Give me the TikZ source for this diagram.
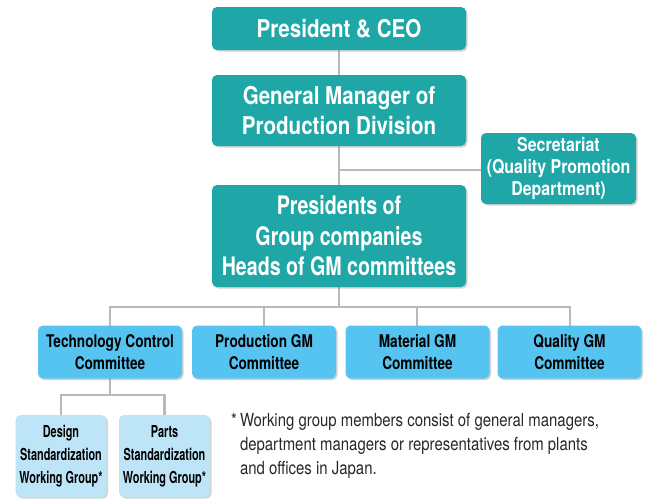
\documentclass[tikz,border=0pt]{standalone}
\usepackage{fontspec}
\setmainfont[FakeStretch=0.85]{TeX Gyre Heros}
\newfontfamily\topfont[FakeStretch=0.84]{TeX Gyre Heros}
\newfontfamily\presfont[FakeStretch=0.77]{TeX Gyre Heros}
\newfontfamily\secfont[FakeStretch=0.84]{TeX Gyre Heros}
\newfontfamily\comfont[FakeStretch=0.78]{TeX Gyre Heros}
\newfontfamily\wgfont[FakeStretch=0.66]{TeX Gyre Heros}
\newfontfamily\notefont[FakeStretch=0.83]{TeX Gyre Heros}
\usetikzlibrary{shadows}
\definecolor{tealbox}{RGB}{31,167,167}
\definecolor{bluebox}{RGB}{86,196,240}
\definecolor{lightbox}{RGB}{190,229,247}
\definecolor{linegray}{RGB}{185,185,185}
\definecolor{txtgray}{RGB}{40,40,40}
\tikzset{
  base/.style={rounded corners=5pt, align=center, inner sep=0pt,
    drop shadow={opacity=0.35, shadow xshift=1.5pt, shadow yshift=-1.5pt}},
  topbox/.style={base, fill=tealbox, text=white, font=\topfont\fontsize{24.5}{29.5}\selectfont\bfseries},
  presbox/.style={base, fill=tealbox, text=white, font=\presfont\fontsize{25.5}{30.5}\selectfont\bfseries},
  secbox/.style={base, fill=tealbox, text=white, font=\secfont\fontsize{19}{22}\selectfont\bfseries},
  combox/.style={base, fill=bluebox, text=black, font=\comfont\fontsize{17.5}{22.5}\selectfont\bfseries,
    minimum width=144pt, minimum height=53pt},
  wgbox/.style={base, fill=lightbox, text=black, font=\wgfont\fontsize{16.5}{23}\selectfont\bfseries,
    minimum width=91pt, minimum height=82pt},
  conn/.style={draw=linegray, line width=2.5pt},
  note/.style={text=txtgray, font=\notefont\fontsize{18}{24}\selectfont, align=left, inner sep=0pt}
}
\begin{document}
\begin{tikzpicture}[x=1pt,y=-1pt]
\useasboundingbox (0,0) rectangle (649,499);
% connectors
\coordinate (bus) at (339,307);
\coordinate (wgbus) at (110,395);
\draw[conn] (339,50) -- (339,185);
\draw[conn] (339,170) -- (481,170);
\draw[conn] (339,287) -- (bus);
\draw[conn] (110,326) |- (bus) -| (570,326);
\draw[conn] (264,307) -- (264,326);
\draw[conn] (417,307) -- (417,326);
\draw[conn] (110,378) -- (wgbus);
\draw[conn] (61,415) |- (wgbus) -| (164.5,415);
% nodes
\node[topbox, minimum width=254pt, minimum height=43pt] (ceo) at (339,28.5) {President \& CEO};
\node[topbox, minimum width=254pt, minimum height=71pt] (gm) at (339,110.5) {General Manager of\\Production Division};
\node[secbox, minimum width=155pt, minimum height=71pt] (sec) at (558.5,168.5) {Secretariat\\(Quality Promotion\\Department)};
\node[presbox, minimum width=254pt, minimum height=102pt] (pres) at (339,236) {Presidents of\\Group companies\\Heads of GM committees};
\node[combox] (tech) at (110,352) {Technology Control\\Committee};
\node[combox] (prod) at (264,352) {Production GM\\Committee};
\node[combox] (mat) at (417.5,352) {Material GM\\Committee};
\node[combox] (qual) at (569.5,352) {Quality GM\\Committee};
\node[wgbox] (des) at (61,456) {Design\\Standardization\\Working Group*};
\node[wgbox] (parts) at (164.5,456) {Parts\\Standardization\\Working Group*};
\node[note, anchor=north west] (fn) at (231,413) {*\,Working group members consist of general managers,\\\hphantom{*\,}department managers or representatives from plants\\\hphantom{*\,}and offices in Japan.};
\end{tikzpicture}
\end{document}
